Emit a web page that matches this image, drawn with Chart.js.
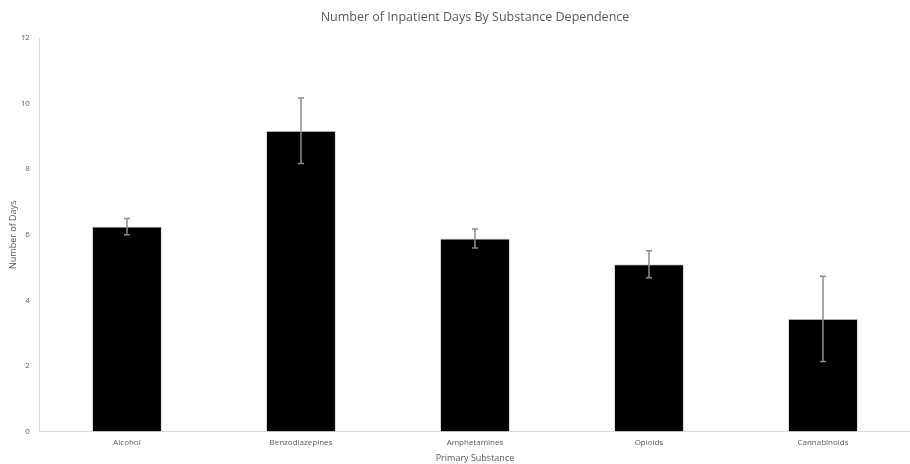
<!DOCTYPE html>
<html>
<head>
<meta charset="utf-8">
<script src="https://cdn.jsdelivr.net/npm/chart.js@4/dist/chart.umd.min.js"></script>
<style>
  html, body { margin: 0; padding: 0; background: #fff; }
  #wrap { width: 910px; height: 464px; }
</style>
</head>
<body>
<div id="wrap"><canvas id="chart"></canvas></div>
<script>
// values
const substances = ["Alcohol", "Benzodiazepines", "Amphetamines", "Opioids", "Cannabinoids"];
const meanDays = [6.25, 9.17, 5.89, 5.1, 3.44];
const errDays = [0.25, 1.0, 0.29, 0.41, 1.3];

const errorBars = {
    id: "errorBars",
    afterDatasetsDraw(chart) {
        const ctx = chart.ctx;
        const meta = chart.getDatasetMeta(0);
        const y = chart.scales.y;
        ctx.save();
        ctx.strokeStyle = "#8c8c8c";
        ctx.lineWidth = 1.5;
        meta.data.forEach((bar, i) => {
            const top = y.getPixelForValue(meanDays[i] + errDays[i]);
            const bot = y.getPixelForValue(meanDays[i] - errDays[i]);
            ctx.beginPath();
            ctx.moveTo(bar.x, top);
            ctx.lineTo(bar.x, bot);
            ctx.moveTo(bar.x - 3, top);
            ctx.lineTo(bar.x + 3, top);
            ctx.moveTo(bar.x - 3, bot);
            ctx.lineTo(bar.x + 3, bot);
            ctx.stroke();
        });
        ctx.restore();
    }
};

new Chart(document.getElementById("chart"), {
type: "bar",
data: {
    labels: substances,
    datasets: [{
        data: meanDays,
        backgroundColor: "#000000",
        borderColor: "#d9d9d9",
        borderWidth: 1,
        categoryPercentage: 1,
        barPercentage: 0.402
    }]
},
options: {
    responsive: true,
    maintainAspectRatio: false,
    animation: false,
    layout: { padding: { left: 0, right: 0, top: 0, bottom: 0 } },
    plugins: {
        legend: { display: false },
        tooltip: { enabled: false },
        title: {
            display: true,
            fullSize: false,
            text: "Number of Inpatient Days By Substance Dependence",
            color: "#595959",
            font: { family: "Open Sans", size: 12.5, weight: "normal" },
            padding: { top: 10, bottom: 13 }
        }
    },
    scales: {
        x: {
            grid: { display: false, drawTicks: false },
            border: { display: true, color: "#d9d9d9" },
            ticks: { color: "#595959", font: { family: "Open Sans", size: 8 }, padding: 6 },
            title: { display: true, text: "Primary Substance", color: "#595959",
                     font: { family: "Open Sans", size: 9 }, padding: { top: 0, bottom: 0 } }
        },
        y: {
            min: 0,
            max: 12,
            ticks: { stepSize: 2, color: "#595959", font: { family: "Open Sans", size: 8 }, padding: 10 },
            grid: { display: false, drawTicks: false },
            border: { display: true, color: "#d9d9d9" },
            title: { display: true, text: "Number of Days", color: "#595959",
                     font: { family: "Open Sans", size: 9 }, padding: { top: 8, bottom: -8 } }
        }
    }
},
plugins: [errorBars]
});
</script>
</body>
</html>
